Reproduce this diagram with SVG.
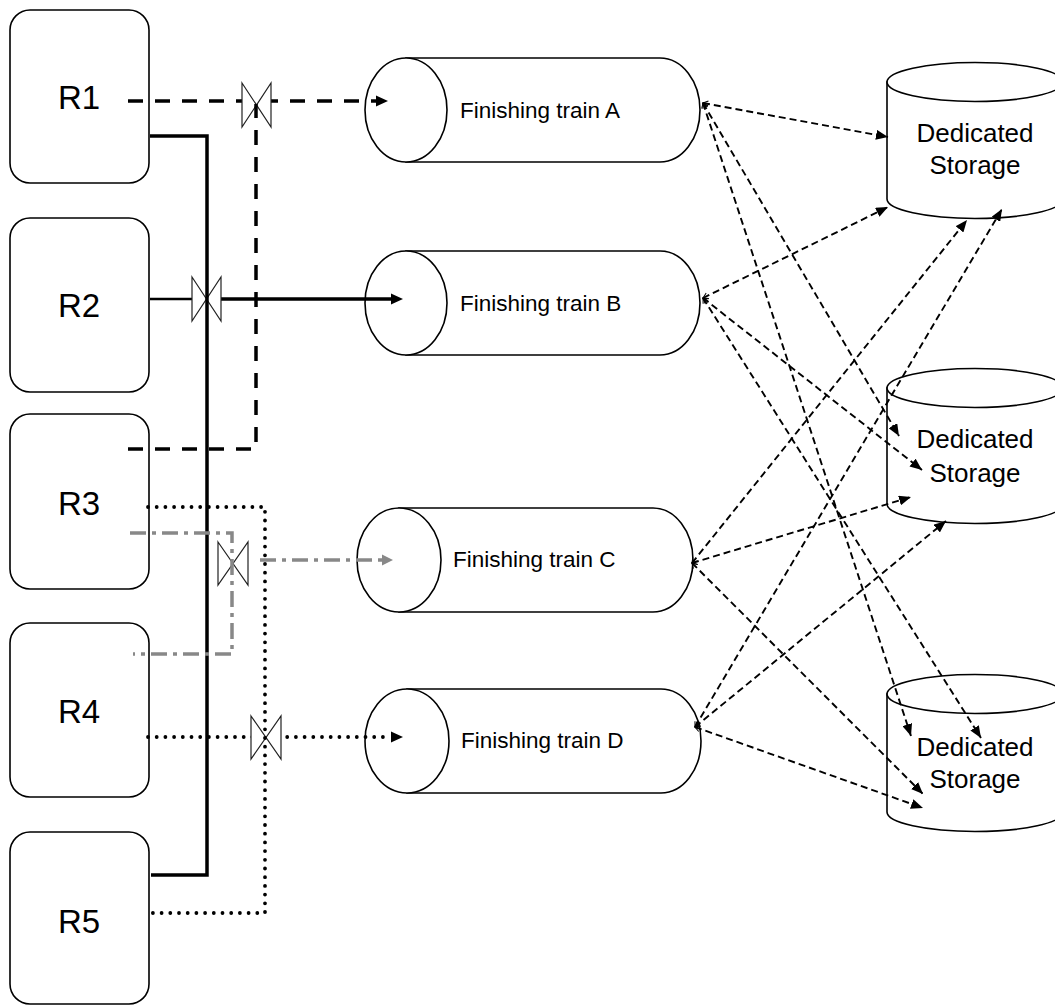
<svg xmlns="http://www.w3.org/2000/svg" width="1055" height="1005" viewBox="0 0 1055 1005">
<style>
.box{fill:#fff;stroke:#000;stroke-width:1.6}
.shp{fill:#fff;stroke:#000;stroke-width:1.6}
.lbl{font-family:"Liberation Sans",Arial,sans-serif;font-size:33px;fill:#000;text-anchor:middle}
.ft{font-family:"Liberation Sans",Arial,sans-serif;font-size:22.5px;fill:#000}
.st{font-family:"Liberation Sans",Arial,sans-serif;font-size:26px;fill:#000;text-anchor:middle}
.dashblk{fill:none;stroke:#000;stroke-width:3.5;stroke-dasharray:15,12}
.solid{fill:none;stroke:#000;stroke-width:3.5}
.dot{fill:none;stroke:#000;stroke-width:3.8;stroke-dasharray:0,8.7;stroke-linecap:round}
.gray{fill:none;stroke:#888;stroke-width:3.5;stroke-dasharray:16,6,4,6}
.thin{fill:none;stroke:#000;stroke-width:1.9;stroke-dasharray:7,4}
.valve{fill:#fff;stroke:#222;stroke-width:1.2}
</style>
<defs>
<marker id="arrL" markerUnits="userSpaceOnUse" markerWidth="12" markerHeight="12" refX="0" refY="6" orient="auto"><path d="M0,0.5 L12,6 L0,11.5 Z" fill="#000"/></marker>
<marker id="arrG" markerUnits="userSpaceOnUse" markerWidth="12" markerHeight="12" refX="0" refY="6" orient="auto"><path d="M0,0.5 L11,6 L0,11.5 Z" fill="#888"/></marker>
<marker id="arrS" markerUnits="userSpaceOnUse" markerWidth="12" markerHeight="10" refX="12" refY="5" orient="auto"><path d="M0,0 L12,5 L0,10 Z" fill="#000"/></marker>
<marker id="tail" markerUnits="userSpaceOnUse" markerWidth="8" markerHeight="8" refX="1" refY="4" orient="auto"><path d="M6,1 L1,4 L6,7" fill="none" stroke="#000" stroke-width="1"/></marker>
</defs>

<g id="R1"><rect class="box" x="10" y="10" width="139" height="173" rx="20"/><text class="lbl" x="79" y="109">R1</text></g>
<g id="R2"><rect class="box" x="10" y="218" width="139" height="174" rx="20"/><text class="lbl" x="79" y="317">R2</text></g>
<g id="R3"><rect class="box" x="10" y="414" width="139" height="175" rx="20"/><text class="lbl" x="79" y="515">R3</text></g>
<g id="R4"><rect class="box" x="10" y="623" width="139" height="174" rx="20"/><text class="lbl" x="79" y="723">R4</text></g>
<g id="R5"><rect class="box" x="10" y="832" width="139" height="172" rx="20"/><text class="lbl" x="79" y="933">R5</text></g>

<g id="trainA"><path class="shp" d="M406,58 H660 A40,52 0 0 1 660,162 H406 Z"/><ellipse class="shp" cx="406" cy="110" rx="41" ry="52"/><text class="ft" x="460" y="118">Finishing train A</text></g>
<g id="trainB"><path class="shp" d="M406,251 H660 A40,52 0 0 1 660,355 H406 Z"/><ellipse class="shp" cx="406" cy="303" rx="41" ry="52"/><text class="ft" x="460" y="311">Finishing train B</text></g>
<g id="trainC"><path class="shp" d="M399,508 H653 A40,52 0 0 1 653,612 H399 Z"/><ellipse class="shp" cx="399" cy="560" rx="42" ry="52"/><text class="ft" x="453" y="567">Finishing train C</text></g>
<g id="trainD"><path class="shp" d="M407,689 H661 A40,52 0 0 1 661,793 H407 Z"/><ellipse class="shp" cx="407" cy="741" rx="42" ry="52"/><text class="ft" x="461" y="748">Finishing train D</text></g>

<g id="storage1"><path class="shp" d="M887,82 V199 A88,19.5 0 0 0 1063,199 V82 Z"/><ellipse class="shp" cx="975" cy="82" rx="88" ry="19.5"/><text class="st" x="975" y="142">Dedicated</text><text class="st" x="975" y="174">Storage</text></g>
<g id="storage2"><path class="shp" d="M887,388 V504 A88,19.5 0 0 0 1063,504 V388 Z"/><ellipse class="shp" cx="975" cy="388" rx="88" ry="19.5"/><text class="st" x="975" y="448">Dedicated</text><text class="st" x="975" y="482">Storage</text></g>
<g id="storage3"><path class="shp" d="M887,694 V812 A88,19.5 0 0 0 1063,812 V694 Z"/><ellipse class="shp" cx="975" cy="694" rx="88" ry="19.5"/><text class="st" x="975" y="756">Dedicated</text><text class="st" x="975" y="788">Storage</text></g>

<g id="connectors">
<path class="dashblk" d="M128,101 H376" marker-end="url(#arrL)"/>
<path fill="none" stroke="#000" stroke-width="2.6" d="M150,299 H193"/>
<path class="solid" d="M193,299 H391" marker-end="url(#arrL)"/>
<path class="dot" d="M148,737 H391" marker-end="url(#arrL)"/>
<path class="gray" d="M260,560 H382" marker-end="url(#arrG)"/>

<g id="valves">
<path id="valve1" class="valve" d="M242,83 L271,127 V83 L242,127 Z"/>
<path id="valve2" class="valve" d="M192,277 L221,321 V277 L192,321 Z"/>
<path id="valve3" class="valve" d="M218,542 L248,585 V542 L218,585 Z"/>
<path id="valve4" class="valve" d="M251,716 L281,759 V716 L251,759 Z"/>
</g>

<path class="solid" d="M150,136 H207 V875 H151"/>
<path class="dashblk" d="M128,449 H256 V104"/>
<path class="dot" d="M148,507 H265 V913 H150"/>
<path class="gray" d="M130,533 H232 V654 H133"/>

<path class="thin" d="M703,103 L888,137" marker-start="url(#tail)" marker-end="url(#arrS)"/>
<path class="thin" d="M703,103 L899,436" marker-start="url(#tail)" marker-end="url(#arrS)"/>
<path class="thin" d="M703,103 L911,736" marker-start="url(#tail)" marker-end="url(#arrS)"/>
<path class="thin" d="M703,298 L888,207" marker-start="url(#tail)" marker-end="url(#arrS)"/>
<path class="thin" d="M703,298 L922,470" marker-start="url(#tail)" marker-end="url(#arrS)"/>
<path class="thin" d="M703,298 L981,738" marker-start="url(#tail)" marker-end="url(#arrS)"/>
<path class="thin" d="M692,563 L967,220" marker-start="url(#tail)" marker-end="url(#arrS)"/>
<path class="thin" d="M692,563 L911,497" marker-start="url(#tail)" marker-end="url(#arrS)"/>
<path class="thin" d="M692,563 L923,794" marker-start="url(#tail)" marker-end="url(#arrS)"/>
<path class="thin" d="M695,727 L1002,209" marker-start="url(#tail)" marker-end="url(#arrS)"/>
<path class="thin" d="M695,727 L946,521" marker-start="url(#tail)" marker-end="url(#arrS)"/>
<path class="thin" d="M695,727 L923,808" marker-start="url(#tail)" marker-end="url(#arrS)"/>
</g>
</svg>
